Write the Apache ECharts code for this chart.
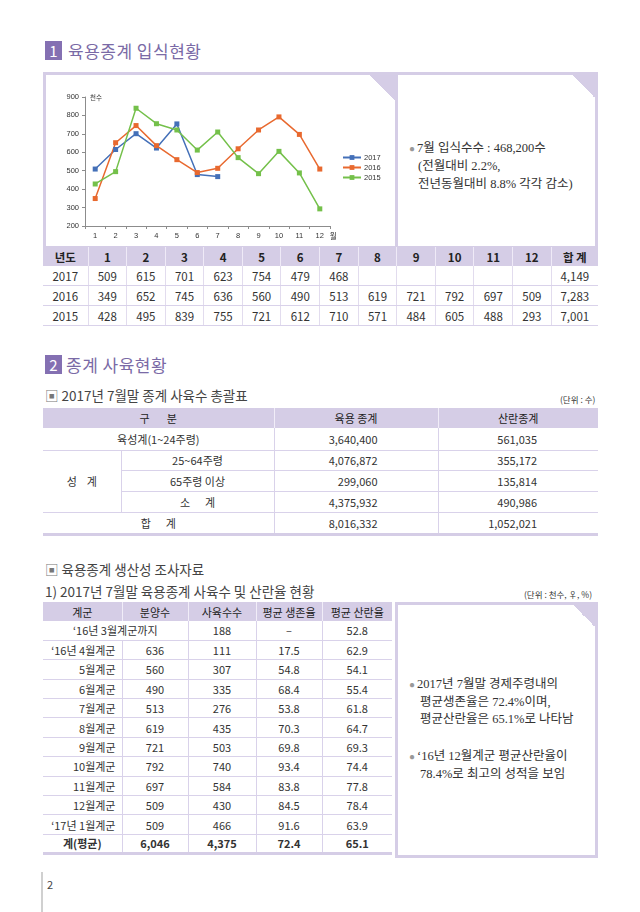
<!DOCTYPE html>
<html><head><meta charset="utf-8">
<script src="https://cdn.jsdelivr.net/npm/echarts@6/dist/echarts.min.js"></script>
<style>
body{margin:0;background:#fff;}
#page{position:relative;width:640px;height:912px;overflow:hidden;font-family:"Noto Sans CJK KR",sans-serif;color:#333;}
.abs{position:absolute;}
.sq{position:absolute;width:17px;height:19px;background:#8470b2;color:#fff;font-size:15px;line-height:19px;text-align:center;font-family:"Noto Sans CJK KR";}
.h1{position:absolute;font-size:17px;color:#7a6aa6;line-height:20px;letter-spacing:0.5px;}
.box{position:absolute;border:3px solid #d5cde6;box-sizing:border-box;background:#fff;}
.fold{position:absolute;background:linear-gradient(to bottom left,#d5cde6 50%,rgba(0,0,0,0) 50%);}
.note{position:absolute;font-family:"Liberation Serif","Noto Sans CJK KR",serif;font-size:12.5px;color:#333;line-height:17.5px;white-space:nowrap;}
.bul{color:#999;font-size:10px;margin-right:2px;}
table{border-collapse:collapse;table-layout:fixed;position:absolute;}
td{padding:0;white-space:nowrap;overflow:visible;}
.t1 td{height:19px;text-align:center;font-size:11.5px;border-left:1px solid #e2dcee;border-bottom:1px solid #d9d2ea;}
.t1 td:first-child{border-left:none;}
.t1 tr.hd td{background:#d5cde6;font-weight:bold;color:#222;font-size:11.5px;border-left:1px solid #efeaf7;border-bottom:none;}
.t1 tr.hd td:first-child{border-left:none;}
.sub{position:absolute;font-size:13.5px;color:#444;line-height:18px;}
.unit{position:absolute;font-size:8.5px;color:#333;}
.t2 td{font-size:11px;text-align:center;border-bottom:1px solid #d9d2ea;}
.t2 tr.hd td{background:#d5cde6;color:#222;border-bottom:none;}
.t2 .vl{border-left:1px solid #d9d2ea;}
.t2 tr.hd td.vl{border-left:1px solid #f1edf8;}
.t2 .rt3{text-align:right;padding-right:60px;}
.t2 .rt4{text-align:right;padding-right:61px;}
.t2 tr.last td{border-bottom:3px solid #d5cde6;}
.t3 td{font-size:11px;text-align:center;border-bottom:1px solid #d9d2ea;border-left:1px solid #d9d2ea;}
.t3 td:first-child{border-left:none;}
.t3 tr.hd td{background:#d5cde6;color:#222;border-bottom:none;border-left:1px solid #f1edf8;}
.t3 tr.hd td:first-child{border-left:none;}
.t3 td.gr{text-align:right;padding-right:6px;}
.t3 tr.last td{border-bottom:3px solid #d5cde6;font-weight:bold;}
</style>
</head><body>
<div id="page">
  <div class="sq" style="left:45px;top:41px;">1</div>
  <div class="h1" style="left:68px;top:41px;">육용종계 입식현황</div>

  <div class="box" style="left:43px;top:72px;width:355px;height:177px;"></div>
  <div class="box" style="left:395px;top:72px;width:203px;height:177px;"></div>
  <div class="fold" style="left:370px;top:75px;width:25px;height:26px;"></div>
  <div class="fold" style="left:572px;top:75px;width:23px;height:23px;"></div>
  <div id="chart" class="abs" style="left:46px;top:75px;width:349px;height:171px;"></div>

  <div class="note" style="left:409px;top:140px;"><span class="bul">●</span>7월 입식수수 : 468,200수</div>
  <div class="note" style="left:418px;top:158px;">(전월대비 2.2%,</div>
  <div class="note" style="left:418px;top:176px;">전년동월대비 8.8% 각각 감소)</div>

  <table class="t1" id="t1" style="left:43px;top:247px;width:555px;"></table>

  <div class="sq" style="left:45px;top:355px;">2</div>
  <div class="h1" style="left:66px;top:355px;">종계 사육현황</div>

  <div class="sub" style="left:45px;top:386px;"><span style="color:#777;">▣</span> 2017년 7월말 종계 사육수 총괄표</div>
  <div class="unit" style="left:560px;top:393px;">(단위 : 수)</div>
  <table class="t2" id="t2" style="left:43px;top:408px;width:555px;"></table>

  <div class="sub" style="left:45px;top:560px;"><span style="color:#777;">▣</span> 육용종계 생산성 조사자료</div>
  <div class="sub" style="left:45px;top:582px;">1) 2017년 7월말 육용종계 사육수 및 산란율 현황</div>
  <div class="unit" style="left:524px;top:588px;">(단위 : 천수, ♀, %)</div>
  <table class="t3" id="t3" style="left:43px;top:602px;width:349px;"></table>

  <div class="box" style="left:395px;top:602px;width:203px;height:256px;"></div>
  <div class="fold" style="left:573px;top:605px;width:22px;height:22px;"></div>
  <div class="note" style="left:409px;top:676px;"><span class="bul">●</span>2017년 7월말 경제주령내의</div>
  <div class="note" style="left:420px;top:694px;">평균생존율은 72.4%이며,</div>
  <div class="note" style="left:420px;top:711px;">평균산란율은 65.1%로 나타남</div>
  <div class="note" style="left:409px;top:748px;"><span class="bul">●</span>‘16년 12월계군 평균산란율이</div>
  <div class="note" style="left:420px;top:766px;">78.4%로 최고의 성적을 보임</div>

  <div class="abs" style="left:41px;top:872px;width:2px;height:40px;background:#d0d0d0;"></div>
  <div class="abs" style="left:47px;top:876px;font-size:11px;color:#444;">2</div>
</div>
<script>
// ---- data ----
var months = ["1","2","3","4","5","6","7","8","9","10","11","12"];
var years = ["2017","2016","2015"];
var v2017 = [509,615,701,623,754,479,468];
var v2016 = [349,652,745,636,560,490,513,619,721,792,697,509];
var v2015 = [428,495,839,755,721,612,710,571,484,605,488,293];
var yTicks = [200,300,400,500,600,700,800,900];

var cats2 = ["육성계(1~24주령)","25~64주령","65주령 이상","소      계","합      계"];
var broiler2 = ["3,640,400","4,076,872","299,060","4,375,932","8,016,332"];
var layer2 = ["561,035","355,172","135,814","490,986","1,052,021"];

var groups3 = ["‘16년 3월계군까지","‘16년 4월계군","5월계군","6월계군","7월계군","8월계군","9월계군","10월계군","11월계군","12월계군","‘17년 1월계군","계(평균)"];
var distributed3 = [null,"636","560","490","513","619","721","792","697","509","509","6,046"];
var raised3 = ["188","111","307","335","276","435","503","740","584","430","466","4,375"];
var survival3 = ["–","17.5","54.8","68.4","53.8","70.3","69.8","93.4","83.8","84.5","91.6","72.4"];
var laying3 = ["52.8","62.9","54.1","55.4","61.8","64.7","69.3","74.4","77.8","78.4","63.9","65.1"];

// ---- table 1 ----
function fmt(n){return n.toString().replace(/\B(?=(\d{3})+(?!\d))/g,",");}
function sum(a){return a.reduce(function(s,x){return s+x;},0);}
var t1 = '<colgroup><col style="width:45px">';
for (var i=0;i<12;i++) t1 += '<col style="width:38.6px">';
t1 += '<col style="width:46.8px"></colgroup>';
t1 += '<tr class="hd"><td>년도</td>' + months.map(function(m){return '<td>'+m+'</td>';}).join('') + '<td>합 계</td></tr>';
[v2017,v2016,v2015].forEach(function(arr,k){
  t1 += '<tr><td>'+years[k]+'</td>';
  for (var i=0;i<12;i++) t1 += '<td>'+(arr[i]!=null?arr[i]:'')+'</td>';
  t1 += '<td>'+fmt(sum(arr))+'</td></tr>';
});
document.getElementById('t1').innerHTML = t1;

// ---- table 2 ----
var t2 = '<colgroup><col style="width:78px"><col style="width:153px"><col style="width:164px"><col style="width:160px"></colgroup>';
t2 += '<tr class="hd" style="height:20px"><td colspan="2">구&nbsp;&nbsp;&nbsp;&nbsp;&nbsp;&nbsp;&nbsp;분</td><td class="vl">육용 종계</td><td class="vl">산란종계</td></tr>';
t2 += '<tr style="height:22px"><td colspan="2">'+cats2[0]+'</td><td class="vl rt3">'+broiler2[0]+'</td><td class="vl rt4">'+layer2[0]+'</td></tr>';
t2 += '<tr style="height:20px"><td rowspan="3">성&nbsp;&nbsp;&nbsp;&nbsp;계</td><td class="vl">'+cats2[1]+'</td><td class="vl rt3">'+broiler2[1]+'</td><td class="vl rt4">'+layer2[1]+'</td></tr>';
t2 += '<tr style="height:21px"><td class="vl">'+cats2[2]+'</td><td class="vl rt3">'+broiler2[2]+'</td><td class="vl rt4">'+layer2[2]+'</td></tr>';
t2 += '<tr style="height:21px"><td class="vl" style="white-space:pre">'+cats2[3]+'</td><td class="vl rt3">'+broiler2[3]+'</td><td class="vl rt4">'+layer2[3]+'</td></tr>';
t2 += '<tr class="last" style="height:22px"><td colspan="2" style="white-space:pre">'+cats2[4]+'</td><td class="vl rt3">'+broiler2[4]+'</td><td class="vl rt4">'+layer2[4]+'</td></tr>';
document.getElementById('t2').innerHTML = t2;

// ---- table 3 ----
var t3 = '<colgroup><col style="width:79px"><col style="width:66px"><col style="width:68px"><col style="width:66px"><col style="width:70px"></colgroup>';
t3 += '<tr class="hd" style="height:19px"><td>계군</td><td>분양수</td><td>사육수수</td><td>평균 생존율</td><td>평균 산란율</td></tr>';
groups3.forEach(function(g,i){
  var last = i===groups3.length-1;
  t3 += '<tr'+(last?' class="last"':'')+' style="height:19.4px">';
  if (distributed3[i]===null) t3 += '<td colspan="2">'+g+'</td>';
  else t3 += '<td class="'+(last?'':'gr')+'">'+g+'</td><td>'+distributed3[i]+'</td>';
  t3 += '<td>'+raised3[i]+'</td><td>'+survival3[i]+'</td><td>'+laying3[i]+'</td></tr>';
});
document.getElementById('t3').innerHTML = t3;

// ---- chart ----
var chart = echarts.init(document.getElementById('chart'));
var colors = ['#4470b8','#e8692f','#74c04a'];
function ser(name,data,c){
  return {name:name,type:'line',data:data,symbol:'rect',symbolSize:5,
    lineStyle:{width:1.5,color:c},itemStyle:{color:c},animation:false};
}
chart.setOption({
  animation:false,
  textStyle:{fontFamily:'"Liberation Sans","Noto Sans CJK KR",sans-serif'},
  grid:{left:39,right:65,top:22,bottom:20},
  legend:{orient:'vertical',left:291,top:73,itemGap:1,itemWidth:18,itemHeight:6,
    textStyle:{fontSize:7.5,color:'#333',lineHeight:9,padding:[0,0,0,-2]},data:years},
  xAxis:{type:'category',data:months,boundaryGap:true,
    axisLine:{lineStyle:{color:'#8c8c8c'}},axisTick:{show:true,length:3,lineStyle:{color:'#8c8c8c'}},
    axisLabel:{fontSize:7.5,color:'#333',margin:6},
    name:'월',nameLocation:'end',nameGap:-3,nameTextStyle:{fontSize:7.5,color:'#333',verticalAlign:'top',padding:[6,0,0,0],fontFamily:'"Noto Sans CJK KR"'}},
  yAxis:{type:'value',min:yTicks[0],max:yTicks[yTicks.length-1],interval:100,
    axisLine:{show:true,lineStyle:{color:'#8c8c8c'}},axisTick:{show:true,length:3,lineStyle:{color:'#8c8c8c'}},
    splitLine:{show:false},axisLabel:{fontSize:7.5,color:'#333',margin:6},
    name:'천수',nameLocation:'end',nameGap:-4,nameTextStyle:{fontSize:6.5,color:'#333',align:'left',padding:[0,0,0,5],fontFamily:'"Noto Sans CJK KR"'}},
  series:[ser(years[0],v2017,colors[0]),ser(years[1],v2016,colors[1]),ser(years[2],v2015,colors[2])]
});
</script>
</body></html>
